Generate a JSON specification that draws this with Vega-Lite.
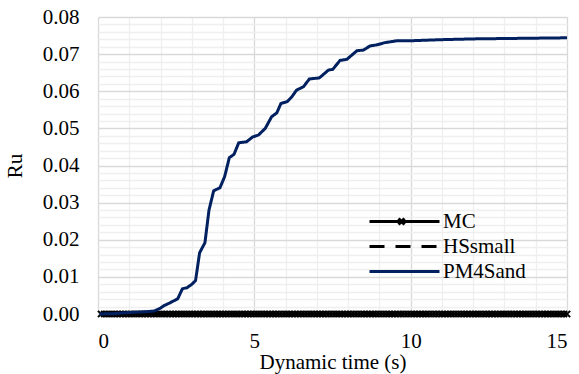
{
  "$schema": "https://vega.github.io/schema/vega-lite/v6.json",
  "width": 469,
  "height": 297,
  "autosize": {"type": "none"},
  "padding": {"left": 98, "top": 17, "right": 12, "bottom": 60},
  "background": "white",
  "config": {
    "view": {"stroke": null},
    "font": "Times New Roman",
    "axis": {"labelFont": "Times New Roman", "titleFont": "Times New Roman", "labelFontSize": 21, "titleFontSize": 21, "labelColor": "#000", "titleColor": "#000", "titleFontWeight": "normal", "ticks": false, "tickSize": 0, "domain": false, "gridWidth": 1.3},
    "legend": {"labelFont": "Times New Roman", "labelFontSize": 21, "labelColor": "#000"}
  },
  "datasets": {
    "lines": [
      {"s": "MC", "t": 0.1, "v": 0}, {"s": "MC", "t": 15, "v": 0},
      {"s": "HSsmall", "t": 0.1, "v": 0}, {"s": "HSsmall", "t": 15, "v": 0},
      {"s": "PM4Sand", "t": 0.05, "v": 0},
      {"s": "PM4Sand", "t": 0.5, "v": 0.0001},
      {"s": "PM4Sand", "t": 1.0, "v": 0.0004},
      {"s": "PM4Sand", "t": 1.5, "v": 0.0006},
      {"s": "PM4Sand", "t": 1.8, "v": 0.0008},
      {"s": "PM4Sand", "t": 2.0, "v": 0.0016},
      {"s": "PM4Sand", "t": 2.1, "v": 0.0022},
      {"s": "PM4Sand", "t": 2.3, "v": 0.003},
      {"s": "PM4Sand", "t": 2.55, "v": 0.0041},
      {"s": "PM4Sand", "t": 2.7, "v": 0.0068},
      {"s": "PM4Sand", "t": 2.85, "v": 0.0071},
      {"s": "PM4Sand", "t": 3.0, "v": 0.008},
      {"s": "PM4Sand", "t": 3.12, "v": 0.009},
      {"s": "PM4Sand", "t": 3.25, "v": 0.0165},
      {"s": "PM4Sand", "t": 3.42, "v": 0.0192},
      {"s": "PM4Sand", "t": 3.55, "v": 0.028},
      {"s": "PM4Sand", "t": 3.7, "v": 0.0332},
      {"s": "PM4Sand", "t": 3.9, "v": 0.034},
      {"s": "PM4Sand", "t": 4.05, "v": 0.037},
      {"s": "PM4Sand", "t": 4.2, "v": 0.0421},
      {"s": "PM4Sand", "t": 4.35, "v": 0.043},
      {"s": "PM4Sand", "t": 4.5, "v": 0.0461},
      {"s": "PM4Sand", "t": 4.75, "v": 0.0464},
      {"s": "PM4Sand", "t": 4.95, "v": 0.0477},
      {"s": "PM4Sand", "t": 5.13, "v": 0.0482},
      {"s": "PM4Sand", "t": 5.35, "v": 0.05},
      {"s": "PM4Sand", "t": 5.55, "v": 0.0531},
      {"s": "PM4Sand", "t": 5.72, "v": 0.0542},
      {"s": "PM4Sand", "t": 5.85, "v": 0.0567},
      {"s": "PM4Sand", "t": 6.05, "v": 0.0572},
      {"s": "PM4Sand", "t": 6.2, "v": 0.0585},
      {"s": "PM4Sand", "t": 6.35, "v": 0.0603},
      {"s": "PM4Sand", "t": 6.57, "v": 0.0612},
      {"s": "PM4Sand", "t": 6.76, "v": 0.0633},
      {"s": "PM4Sand", "t": 7.08, "v": 0.0636},
      {"s": "PM4Sand", "t": 7.37, "v": 0.0657},
      {"s": "PM4Sand", "t": 7.51, "v": 0.0659},
      {"s": "PM4Sand", "t": 7.74, "v": 0.0683},
      {"s": "PM4Sand", "t": 7.96, "v": 0.0686},
      {"s": "PM4Sand", "t": 8.28, "v": 0.0709},
      {"s": "PM4Sand", "t": 8.49, "v": 0.0711},
      {"s": "PM4Sand", "t": 8.7, "v": 0.0722},
      {"s": "PM4Sand", "t": 8.92, "v": 0.0725},
      {"s": "PM4Sand", "t": 9.18, "v": 0.0731},
      {"s": "PM4Sand", "t": 9.56, "v": 0.0736},
      {"s": "PM4Sand", "t": 10.0, "v": 0.0736},
      {"s": "PM4Sand", "t": 11.0, "v": 0.0739},
      {"s": "PM4Sand", "t": 12.0, "v": 0.0741},
      {"s": "PM4Sand", "t": 13.0, "v": 0.0742},
      {"s": "PM4Sand", "t": 14.0, "v": 0.0743},
      {"s": "PM4Sand", "t": 15.0, "v": 0.0744}
    ],
    "mc": [
      {"t":0.1,"v":0},{"t":0.2,"v":0},{"t":0.3,"v":0},{"t":0.4,"v":0},{"t":0.5,"v":0},{"t":0.6,"v":0},{"t":0.7,"v":0},{"t":0.8,"v":0},{"t":0.9,"v":0},{"t":1.0,"v":0},
      {"t":1.1,"v":0},{"t":1.2,"v":0},{"t":1.3,"v":0},{"t":1.4,"v":0},{"t":1.5,"v":0},{"t":1.6,"v":0},{"t":1.7,"v":0},{"t":1.8,"v":0},{"t":1.9,"v":0},{"t":2.0,"v":0},
      {"t":2.1,"v":0},{"t":2.2,"v":0},{"t":2.3,"v":0},{"t":2.4,"v":0},{"t":2.5,"v":0},{"t":2.6,"v":0},{"t":2.7,"v":0},{"t":2.8,"v":0},{"t":2.9,"v":0},{"t":3.0,"v":0},
      {"t":3.1,"v":0},{"t":3.2,"v":0},{"t":3.3,"v":0},{"t":3.4,"v":0},{"t":3.5,"v":0},{"t":3.6,"v":0},{"t":3.7,"v":0},{"t":3.8,"v":0},{"t":3.9,"v":0},{"t":4.0,"v":0},
      {"t":4.1,"v":0},{"t":4.2,"v":0},{"t":4.3,"v":0},{"t":4.4,"v":0},{"t":4.5,"v":0},{"t":4.6,"v":0},{"t":4.7,"v":0},{"t":4.8,"v":0},{"t":4.9,"v":0},{"t":5.0,"v":0},
      {"t":5.1,"v":0},{"t":5.2,"v":0},{"t":5.3,"v":0},{"t":5.4,"v":0},{"t":5.5,"v":0},{"t":5.6,"v":0},{"t":5.7,"v":0},{"t":5.8,"v":0},{"t":5.9,"v":0},{"t":6.0,"v":0},
      {"t":6.1,"v":0},{"t":6.2,"v":0},{"t":6.3,"v":0},{"t":6.4,"v":0},{"t":6.5,"v":0},{"t":6.6,"v":0},{"t":6.7,"v":0},{"t":6.8,"v":0},{"t":6.9,"v":0},{"t":7.0,"v":0},
      {"t":7.1,"v":0},{"t":7.2,"v":0},{"t":7.3,"v":0},{"t":7.4,"v":0},{"t":7.5,"v":0},{"t":7.6,"v":0},{"t":7.7,"v":0},{"t":7.8,"v":0},{"t":7.9,"v":0},{"t":8.0,"v":0},
      {"t":8.1,"v":0},{"t":8.2,"v":0},{"t":8.3,"v":0},{"t":8.4,"v":0},{"t":8.5,"v":0},{"t":8.6,"v":0},{"t":8.7,"v":0},{"t":8.8,"v":0},{"t":8.9,"v":0},{"t":9.0,"v":0},
      {"t":9.1,"v":0},{"t":9.2,"v":0},{"t":9.3,"v":0},{"t":9.4,"v":0},{"t":9.5,"v":0},{"t":9.6,"v":0},{"t":9.7,"v":0},{"t":9.8,"v":0},{"t":9.9,"v":0},{"t":10.0,"v":0},
      {"t":10.1,"v":0},{"t":10.2,"v":0},{"t":10.3,"v":0},{"t":10.4,"v":0},{"t":10.5,"v":0},{"t":10.6,"v":0},{"t":10.7,"v":0},{"t":10.8,"v":0},{"t":10.9,"v":0},{"t":11.0,"v":0},
      {"t":11.1,"v":0},{"t":11.2,"v":0},{"t":11.3,"v":0},{"t":11.4,"v":0},{"t":11.5,"v":0},{"t":11.6,"v":0},{"t":11.7,"v":0},{"t":11.8,"v":0},{"t":11.9,"v":0},{"t":12.0,"v":0},
      {"t":12.1,"v":0},{"t":12.2,"v":0},{"t":12.3,"v":0},{"t":12.4,"v":0},{"t":12.5,"v":0},{"t":12.6,"v":0},{"t":12.7,"v":0},{"t":12.8,"v":0},{"t":12.9,"v":0},{"t":13.0,"v":0},
      {"t":13.1,"v":0},{"t":13.2,"v":0},{"t":13.3,"v":0},{"t":13.4,"v":0},{"t":13.5,"v":0},{"t":13.6,"v":0},{"t":13.7,"v":0},{"t":13.8,"v":0},{"t":13.9,"v":0},{"t":14.0,"v":0},
      {"t":14.1,"v":0},{"t":14.2,"v":0},{"t":14.3,"v":0},{"t":14.4,"v":0},{"t":14.5,"v":0},{"t":14.6,"v":0},{"t":14.7,"v":0},{"t":14.8,"v":0},{"t":14.9,"v":0},{"t":15.0,"v":0}
    ]
  },
  "encoding": {
    "x": {
      "field": "t", "type": "quantitative", "title": "Dynamic time (s)",
      "scale": {"domain": [0, 15], "nice": false},
      "axis": {
        "values": [0,1,2,3,4,5,6,7,8,9,10,11,12,13,14,15],
        "labelExpr": "datum.value % 5 === 0 ? datum.label : ''",
        "format": "d",
        "labelPadding": 16,
        "titlePadding": 0,
        "gridColor": {"condition": {"test": "datum.value % 5 === 0", "value": "#d9d9d9"}, "value": "#efefef"}
      }
    },
    "y": {
      "field": "v", "type": "quantitative", "title": "Ru",
      "scale": {"domain": [0, 0.08], "nice": false},
      "axis": {
        "values": [0,0.002,0.004,0.006,0.008,0.01,0.012,0.014,0.016,0.018,0.02,0.022,0.024,0.026,0.028,0.03,0.032,0.034,0.036,0.038,0.04,0.042,0.044,0.046,0.048,0.05,0.052,0.054,0.056,0.058,0.06,0.062,0.064,0.066,0.068,0.07,0.072,0.074,0.076,0.078,0.08],
        "labelExpr": "abs(datum.value*100 - round(datum.value*100)) < 0.001 ? format(datum.value, '.2f') : ''",
        "labelPadding": 19,
        "titlePadding": 17,
        "gridColor": {"condition": {"test": "abs(datum.value*100 - round(datum.value*100)) < 0.001", "value": "#d9d9d9"}, "value": "#efefef"}
      }
    }
  },
  "layer": [
    {
      "data": {"name": "lines"},
      "transform": [{"filter": "datum.s !== 'PM4Sand'"}],
      "mark": {"type": "line", "strokeWidth": 3},
      "encoding": {
        "color": {"field": "s", "type": "nominal", "scale": {"domain": ["MC", "HSsmall", "PM4Sand"], "range": ["#000000", "#000000", "#002060"]},
          "legend": {"title": null, "orient": "none", "legendX": 296, "legendY": 194, "padding": 0, "symbolSize": 100, "symbolStrokeWidth": 3, "labelOffset": 28, "rowPadding": 3,
            "encode": {"symbols": {"update": {"shape": {"signal": "datum.value === 'MC' ? 'M-7,0L7,0M-1.2,-0.6L0,0.6M-1.2,0.6L0,-0.6' : 'M-7,0L7,0'"}, "strokeWidth": {"value": 3}}}}}},
        "strokeDash": {"field": "s", "type": "nominal", "scale": {"domain": ["MC", "HSsmall", "PM4Sand"], "range": [[1, 0], [15, 11], [1, 0]]},
          "legend": {"title": null, "orient": "none", "legendX": 296, "legendY": 194, "padding": 0, "symbolSize": 100, "symbolStrokeWidth": 3, "labelOffset": 28, "rowPadding": 3,
            "encode": {"symbols": {"update": {"shape": {"signal": "datum.value === 'MC' ? 'M-7,0L7,0M-1.2,-0.6L0,0.6M-1.2,0.6L0,-0.6' : 'M-7,0L7,0'"}, "strokeWidth": {"value": 3}}}}}}
      }
    },
    {
      "data": {"name": "mc"},
      "mark": {"type": "point", "shape": "M-1,-1L1,1M-1,1L1,-1", "filled": false, "stroke": "#000000", "strokeWidth": 2, "size": 40, "opacity": 1}
    },
    {
      "data": {"name": "lines"},
      "transform": [{"filter": "datum.s === 'PM4Sand'"}],
      "mark": {"type": "line", "strokeWidth": 3},
      "encoding": {
        "color": {"field": "s", "type": "nominal", "scale": {"domain": ["MC", "HSsmall", "PM4Sand"], "range": ["#000000", "#000000", "#002060"]},
          "legend": {"title": null, "orient": "none", "legendX": 296, "legendY": 194, "padding": 0, "symbolSize": 100, "symbolStrokeWidth": 3, "labelOffset": 28, "rowPadding": 3,
            "encode": {"symbols": {"update": {"shape": {"signal": "datum.value === 'MC' ? 'M-7,0L7,0M-1.2,-0.6L0,0.6M-1.2,0.6L0,-0.6' : 'M-7,0L7,0'"}, "strokeWidth": {"value": 3}}}}}},
        "strokeDash": {"field": "s", "type": "nominal", "scale": {"domain": ["MC", "HSsmall", "PM4Sand"], "range": [[1, 0], [15, 11], [1, 0]]},
          "legend": {"title": null, "orient": "none", "legendX": 296, "legendY": 194, "padding": 0, "symbolSize": 100, "symbolStrokeWidth": 3, "labelOffset": 28, "rowPadding": 3,
            "encode": {"symbols": {"update": {"shape": {"signal": "datum.value === 'MC' ? 'M-7,0L7,0M-1.2,-0.6L0,0.6M-1.2,0.6L0,-0.6' : 'M-7,0L7,0'"}, "strokeWidth": {"value": 3}}}}}}
      }
    }
  ]
}
